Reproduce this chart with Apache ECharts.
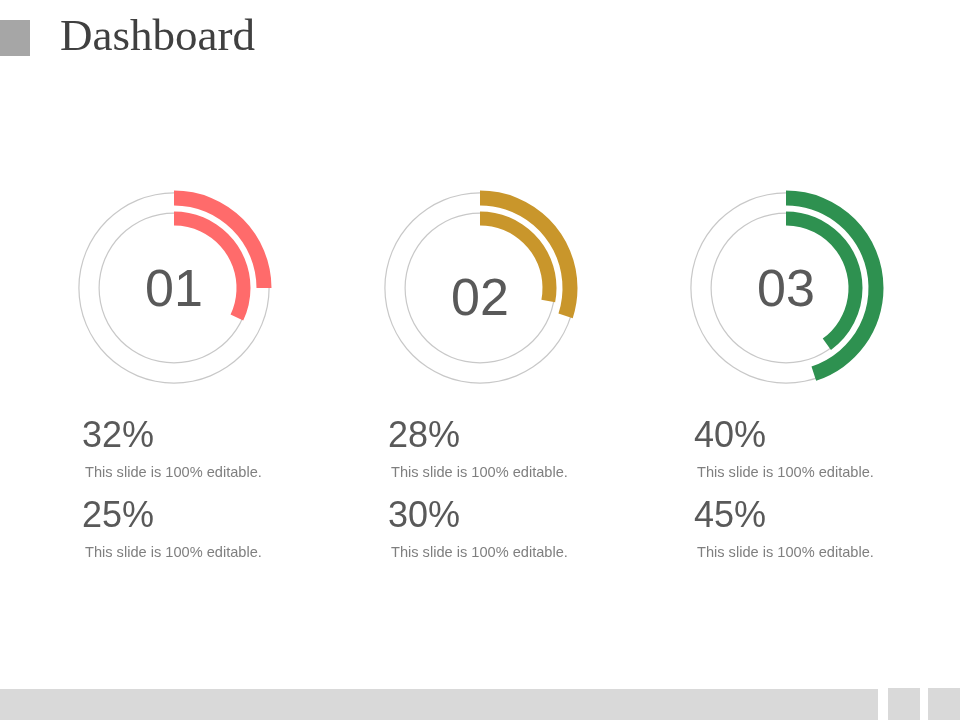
<!DOCTYPE html>
<html>
<head>
<meta charset="utf-8">
<script src="https://cdn.jsdelivr.net/npm/echarts@6/dist/echarts.min.js"></script>
<style>
html,body{margin:0;padding:0;background:#fff;}
#chart{width:960px;height:720px;}
</style>
</head>
<body>
<div id="chart"></div>
<script>
const title = 'Dashboard';
const groups = ['01', '02', '03'];
const innerValues = [32, 28, 40];
const outerValues = [25, 30, 45];
const caption = 'This slide is 100% editable.';
const colors = ['#FF6B6B', '#C9962B', '#2E9150'];

const chart = echarts.init(document.getElementById('chart'), null, {renderer: 'canvas'});
const centersX = [174, 480, 786];
const cy = 288;
const series = [];
const graphic = [];

graphic.push({type: 'rect', shape: {x: 0, y: 20, width: 30, height: 36}, style: {fill: '#A6A6A6'}});
graphic.push({type: 'text', x: 60, y: 38, style: {text: title, fill: '#404040', fontSize: 45, fontFamily: 'Liberation Serif', textVerticalAlign: 'middle'}});
graphic.push({type: 'rect', shape: {x: 0, y: 689, width: 878, height: 31}, style: {fill: '#D9D9D9'}});
graphic.push({type: 'rect', shape: {x: 888, y: 688, width: 32, height: 32}, style: {fill: '#D9D9D9'}});
graphic.push({type: 'rect', shape: {x: 928, y: 688, width: 32, height: 32}, style: {fill: '#D9D9D9'}});

const noBorder = {borderWidth: 0, borderColor: 'rgba(0,0,0,0)', borderRadius: 0};

function ringSeries(cx, radius, value, color) {
  return {
    type: 'pie', silent: true, center: [cx, cy], radius: radius,
    startAngle: 90, clockwise: true, animation: false, padAngle: 0,
    itemStyle: noBorder,
    label: {show: false}, labelLine: {show: false},
    emphasis: {disabled: true},
    data: [
      {value: value, itemStyle: Object.assign({color: color}, noBorder)},
      {value: 100 - value, itemStyle: Object.assign({color: 'rgba(0,0,0,0)'}, noBorder)}
    ]
  };
}
function circleSeries(cx, radius) {
  return {
    type: 'pie', silent: true, center: [cx, cy], radius: radius, animation: false,
    itemStyle: noBorder,
    label: {show: false}, labelLine: {show: false}, emphasis: {disabled: true},
    data: [{value: 1, itemStyle: Object.assign({color: '#C8C8C8'}, noBorder)}]
  };
}

groups.forEach((g, i) => {
  const cx = centersX[i];
  series.push(circleSeries(cx, [94.5, 95.7]));
  series.push(circleSeries(cx, [74.3, 75.5]));
  series.push(ringSeries(cx, [82.5, 97.5], outerValues[i], colors[i]));
  series.push(ringSeries(cx, [62.5, 76.5], innerValues[i], colors[i]));
  graphic.push({type: 'text', x: cx, y: i === 1 ? 301 : 292, style: {text: g, fill: '#595959', fontSize: 52, fontFamily: 'Liberation Sans', textAlign: 'center', textVerticalAlign: 'middle'}});
  const lx = cx - 92;
  graphic.push({type: 'text', x: lx, y: 437, style: {text: innerValues[i] + '%', fill: '#595959', fontSize: 36, fontFamily: 'Liberation Sans', textVerticalAlign: 'middle'}});
  graphic.push({type: 'text', x: lx + 3, y: 473, style: {text: caption, fill: '#7F7F7F', fontSize: 14.6, fontFamily: 'Liberation Sans', textVerticalAlign: 'middle'}});
  graphic.push({type: 'text', x: lx, y: 517, style: {text: outerValues[i] + '%', fill: '#595959', fontSize: 36, fontFamily: 'Liberation Sans', textVerticalAlign: 'middle'}});
  graphic.push({type: 'text', x: lx + 3, y: 553, style: {text: caption, fill: '#7F7F7F', fontSize: 14.6, fontFamily: 'Liberation Sans', textVerticalAlign: 'middle'}});
});

chart.setOption({
  backgroundColor: '#ffffff',
  animation: false,
  series: series,
  graphic: graphic
});
</script>
</body>
</html>
